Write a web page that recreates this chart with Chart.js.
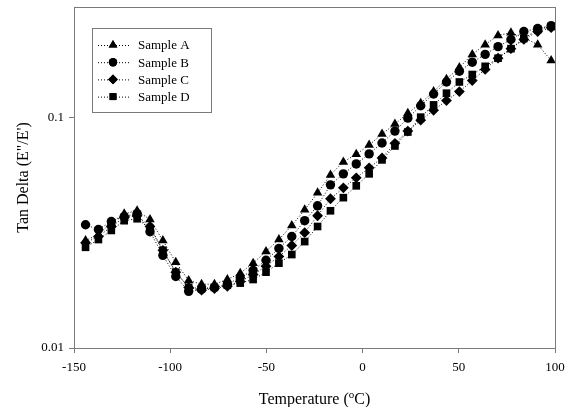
<!DOCTYPE html>
<html>
<head>
<meta charset="utf-8">
<script src="https://cdn.jsdelivr.net/npm/chart.js@4.4.1/dist/chart.umd.min.js"></script>
<style>
  body { margin: 0; background: #fff; }
  canvas { display: block; }
</style>
</head>
<body>
<canvas id="tan-delta-chart" width="566" height="407"></canvas>
<script>
// ---------------- Data ----------------
const temps = [-144, -137.3, -130.6, -123.9, -117.2, -110.5, -103.8, -97.1, -90.4, -83.7,
    -77, -70.3, -63.6, -56.9, -50.2, -43.5, -36.8, -30.1, -23.4, -16.7,
    -10, -3.3, 3.4, 10.1, 16.8, 23.5, 30.2, 36.9, 43.6, 50.3,
    57, 63.7, 70.4, 77.1, 83.8, 91, 98];

const sampleA = [0.0292, 0.0310, 0.0349, 0.0382, 0.0393, 0.0360, 0.0292, 0.0235, 0.0196, 0.0189,
    0.0189, 0.0198, 0.0211, 0.0233, 0.0262, 0.0295, 0.0339, 0.0397, 0.0470, 0.0562,
    0.064, 0.069, 0.0757, 0.0845, 0.0933, 0.104, 0.115, 0.129, 0.146, 0.164,
    0.187, 0.206, 0.226, 0.232, 0.221, 0.206, 0.176];
const sampleB = [0.0342, 0.0326, 0.0353, 0.0371, 0.0382, 0.0319, 0.0252, 0.0204, 0.0176, 0.0180,
    0.0183, 0.0189, 0.0202, 0.0217, 0.0240, 0.0270, 0.0304, 0.0356, 0.0413, 0.0509,
    0.0568, 0.0627, 0.0693, 0.0773, 0.0870, 0.0990, 0.112, 0.126, 0.142, 0.158,
    0.173, 0.187, 0.202, 0.217, 0.235, 0.242, 0.249];
const sampleC = [0.0286, 0.0304, 0.0336, 0.0367, 0.0374, 0.0336, 0.0265, 0.0213, 0.0183, 0.0178,
    0.0181, 0.0185, 0.0194, 0.0208, 0.0226, 0.0249, 0.0278, 0.0316, 0.0374, 0.0443,
    0.0494, 0.0546, 0.0603, 0.0666, 0.077, 0.087, 0.097, 0.107, 0.118, 0.129,
    0.144, 0.161, 0.180, 0.198, 0.217, 0.235, 0.244];
const sampleD = [0.0273, 0.0295, 0.0323, 0.0356, 0.0363, 0.0329, 0.0265, 0.0213, 0.0183, 0.0181,
    0.0183, 0.0187, 0.0191, 0.0198, 0.0213, 0.0233, 0.0254, 0.0289, 0.0336, 0.0393,
    0.0448, 0.0504, 0.0568, 0.0653, 0.0750, 0.0862, 0.100, 0.113, 0.127, 0.142,
    0.153, 0.166, 0.180, 0.198, 0.219, 0.240, 0.247];

const seriesNames = ['Sample A', 'Sample B', 'Sample C', 'Sample D'];
const seriesValues = [sampleA, sampleB, sampleC, sampleD];
const markers = ['triangle', 'circle', 'rectRot', 'rect'];
const markerSizes = [5.5, 4.7, 5.4, 5.4];

const xTicks = [-150, -100, -50, 0, 50, 100];
const yTicks = [0.01, 0.1];

const FONT = '"Liberation Serif", "Times New Roman", serif';
const AXIS_GREY = '#7a7a7a';

Chart.defaults.font.family = FONT;
Chart.defaults.color = '#000';

// ---------------- Datasets ----------------
const datasets = seriesValues.map((vals, s) => ({
    label: seriesNames[s],
    data: vals.map((v, i) => ({ x: temps[i], y: v })),
    showLine: true,
    borderColor: '#000',
    borderWidth: 1,
    borderDash: [1, 2],
    backgroundColor: '#000',
    pointStyle: markers[s],
    pointRadius: markerSizes[s],
    pointBorderWidth: 0,
    pointBackgroundColor: '#000'
}));

// ---------------- Frame, legend box and x title ----------------
function drawMarker(ctx, style, r, x, y) {
    if (Chart.helpers && Chart.helpers.drawPoint) {
        Chart.helpers.drawPoint(ctx, { pointStyle: style, radius: r, rotation: 0, borderWidth: 0 }, x, y);
        ctx.fill();
    }
}

const extras = {
    id: 'extras',
    afterDatasetsDraw(chart) {
        const ctx = chart.ctx;
        const a = chart.chartArea;
        ctx.save();
        // plot frame
        ctx.strokeStyle = AXIS_GREY;
        ctx.lineWidth = 1;
        ctx.strokeRect(Math.round(a.left) + 0.5, Math.round(a.top) + 0.5,
            Math.round(a.right - a.left), Math.round(a.bottom - a.top));

        // legend box
        ctx.fillStyle = '#fff';
        ctx.fillRect(92, 28, 119, 84);
        ctx.strokeRect(92.5, 28.5, 119, 84);
        seriesNames.forEach((name, s) => {
            const y = 45 + s * 17.2;
            ctx.strokeStyle = '#000';
            ctx.setLineDash([1, 2]);
            ctx.beginPath();
            ctx.moveTo(98, y + 0.5);
            ctx.lineTo(129, y + 0.5);
            ctx.stroke();
            ctx.setLineDash([]);
            ctx.fillStyle = '#000';
            drawMarker(ctx, markers[s], markerSizes[s] - 0.5, 113, y);
            ctx.font = '13px ' + FONT;
            ctx.textBaseline = 'middle';
            ctx.textAlign = 'left';
            ctx.fillText(name, 138, y + 1);
        });

        // x title with superscript o
        const cx = (a.left + a.right) / 2;
        const base = 404;
        const big = '16px ' + FONT;
        const small = '11px ' + FONT;
        ctx.textBaseline = 'alphabetic';
        ctx.font = big;
        const w1 = ctx.measureText('Temperature (').width;
        const w3 = ctx.measureText('C)').width;
        ctx.font = small;
        const w2 = ctx.measureText('o').width;
        let x = cx - (w1 + w2 + w3) / 2;
        ctx.fillStyle = '#000';
        ctx.font = big;
        ctx.fillText('Temperature (', x, base);
        x += w1;
        ctx.font = small;
        ctx.fillText('o', x, base - 6);
        x += w2;
        ctx.font = big;
        ctx.fillText('C)', x, base);
        ctx.restore();
    }
};

// ---------------- Chart ----------------
const ctx = document.getElementById('tan-delta-chart');
const tanDeltaChart = new Chart(ctx, {
    type: 'scatter',
    data: { datasets: datasets },
    options: {
        responsive: false,
        animation: false,
        layout: { padding: { left: 0, right: 11, top: 7, bottom: 0 } },
        plugins: {
            legend: { display: false },
            tooltip: { enabled: false }
        },
        scales: {
            x: {
                type: 'linear',
                min: -150,
                max: 100,
                afterBuildTicks: (scale) => { scale.ticks = xTicks.map(v => ({ value: v })); },
                afterFit: (scale) => {
                    scale.height = 59;
                    scale.paddingLeft = 0;
                    scale.paddingRight = 0;
                },
                grid: { drawOnChartArea: false, drawTicks: true, tickLength: 5, color: AXIS_GREY },
                border: { display: false },
                ticks: { font: { size: 13 }, padding: 7, maxRotation: 0 }
            },
            y: {
                type: 'logarithmic',
                min: 0.01,
                max: 0.3,
                afterBuildTicks: (scale) => { scale.ticks = yTicks.map(v => ({ value: v })); },
                afterFit: (scale) => {
                    scale.width = 74;
                    scale.paddingTop = 0;
                    scale.paddingBottom = 0;
                },
                grid: { drawOnChartArea: false, drawTicks: true, tickLength: 5, color: AXIS_GREY },
                border: { display: false },
                ticks: {
                    font: { size: 13 },
                    padding: 5,
                    callback: (v) => String(v)
                },
                title: {
                    display: true,
                    text: 'Tan Delta (E"/E\')',
                    font: { size: 16 },
                    padding: { top: 14, bottom: 0 }
                }
            }
        }
    },
    plugins: [extras]
});
</script>
</body>
</html>
